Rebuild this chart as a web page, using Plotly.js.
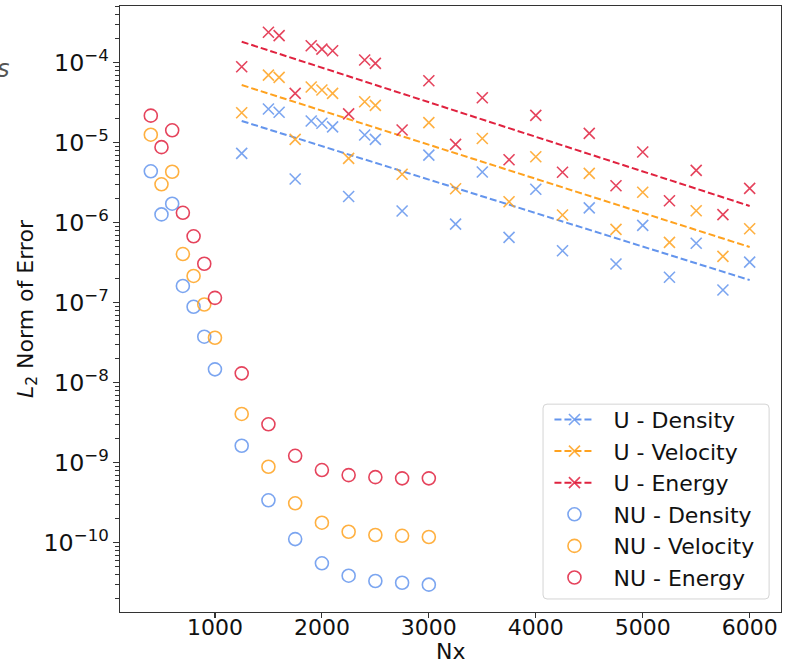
<!DOCTYPE html>
<html>
<head>
<meta charset="utf-8">
<script src="https://cdn.plot.ly/plotly-3.0.1.min.js"></script>
<style>
  html, body { margin: 0; padding: 0; background: #fff; }
  #chart { width: 786px; height: 665px; }
</style>
</head>
<body>
<div id="chart"></div>
<script>
// Uniform-grid (U) runs
const uNx = [1250, 1500, 1600, 1750, 1900, 2000, 2100, 2250, 2400, 2500, 2750, 3000,
             3250, 3500, 3750, 4000, 4250, 4500, 4750, 5000, 5250, 5500, 5750, 6000];
const uDensity = [7.37e-6, 2.64e-5, 2.4e-5, 3.52e-6, 1.87e-5, 1.75e-5, 1.58e-5, 2.13e-6,
                  1.25e-5, 1.1e-5, 1.4e-6, 7.0e-6, 9.6e-7, 4.3e-6, 6.57e-7, 2.62e-6,
                  4.47e-7, 1.53e-6, 3.05e-7, 9.28e-7, 2.08e-7, 5.53e-7, 1.44e-7, 3.22e-7];
const uVelocity = [2.37e-5, 7.0e-5, 6.57e-5, 1.1e-5, 4.97e-5, 4.56e-5, 4.14e-5, 6.38e-6,
                   3.25e-5, 2.93e-5, 4.03e-6, 1.78e-5, 2.66e-6, 1.13e-5, 1.83e-6, 6.68e-6,
                   1.25e-6, 4.14e-6, 8.27e-7, 2.4e-6, 5.69e-7, 1.41e-6, 3.8e-7, 8.4e-7];
const uEnergy = [8.9e-5, 2.4e-4, 2.18e-4, 4.14e-5, 1.63e-4, 1.48e-4, 1.41e-4, 2.29e-5,
                 1.08e-4, 9.8e-5, 1.44e-5, 5.96e-5, 9.55e-6, 3.65e-5, 6.13e-6, 2.2e-5,
                 4.27e-6, 1.31e-5, 2.9e-6, 7.66e-6, 1.88e-6, 4.52e-6, 1.26e-6, 2.69e-6];

// Exponential trend lines through the U runs
const fitNx = [1250, 6000];
const fitDensity = [1.87e-5, 1.92e-7];
const fitVelocity = [5.26e-5, 4.97e-7];
const fitEnergy = [1.83e-4, 1.62e-6];

// Non-uniform-grid (NU) runs
const nuNx = [400, 500, 600, 700, 800, 900, 1000, 1250, 1500, 1750, 2000, 2250, 2500, 2750, 3000];
const nuDensity = [4.39e-6, 1.27e-6, 1.73e-6, 1.62e-7, 8.9e-8, 3.76e-8, 1.47e-8, 1.63e-9,
                   3.39e-10, 1.11e-10, 5.53e-11, 3.87e-11, 3.32e-11, 3.16e-11, 2.99e-11];
const nuVelocity = [1.26e-5, 3.02e-6, 4.34e-6, 4.06e-7, 2.16e-7, 9.5e-8, 3.65e-8, 4.07e-9,
                    8.9e-10, 3.11e-10, 1.78e-10, 1.37e-10, 1.25e-10, 1.22e-10, 1.18e-10];
const nuEnergy = [2.18e-5, 8.8e-6, 1.43e-5, 1.33e-6, 6.76e-7, 3.07e-7, 1.15e-7, 1.31e-8,
                  3.02e-9, 1.22e-9, 8.1e-10, 7.0e-10, 6.6e-10, 6.38e-10, 6.38e-10];

const uLabels = ['U - Density', 'U - Velocity', 'U - Energy'];
const nuLabels = ['NU - Density', 'NU - Velocity', 'NU - Energy'];

const colors = ['#6495ED', '#FFA21F', '#E0223F'];
const soft = ['rgba(100,149,237,0.85)', 'rgba(255,162,31,0.85)', 'rgba(224,34,63,0.85)'];

const FONT = 'DejaVu Sans, Verdana, sans-serif';
const uSeries = [uDensity, uVelocity, uEnergy];
const fitSeries = [fitDensity, fitVelocity, fitEnergy];
const nuSeries = [nuDensity, nuVelocity, nuEnergy];

// legend labels get a little padding after the key symbol
const pad = '\u00a0\u00a0';

const traces = [];

// legend entries for U (dashed line with cross)
for (let i = 0; i < 3; i++) {
  traces.push({
    type: 'scatter', mode: 'lines+markers', x: [null], y: [null],
    name: pad + uLabels[i], legendgroup: 'u' + i,
    line: { color: colors[i], width: 2, dash: '7px,3px' },
    marker: { symbol: 'x-thin', size: 11, color: soft[i], line: { color: soft[i], width: 1.6 } },
    hoverinfo: 'skip'
  });
}
// NU points (open circles), also listed in the legend
for (let i = 0; i < 3; i++) {
  traces.push({
    type: 'scatter', mode: 'markers', x: nuNx, y: nuSeries[i],
    name: pad + nuLabels[i], legendgroup: 'nu' + i,
    marker: { symbol: 'circle-open', size: 13, color: soft[i], line: { color: soft[i], width: 1.6 } }
  });
}
// U points and fit lines
for (let i = 0; i < 3; i++) {
  traces.push({
    type: 'scatter', mode: 'markers', x: uNx, y: uSeries[i],
    name: uLabels[i], legendgroup: 'u' + i, showlegend: false,
    marker: { symbol: 'x-thin', size: 11, color: soft[i], line: { color: soft[i], width: 1.6 } }
  });
  traces.push({
    type: 'scatter', mode: 'lines', x: fitNx, y: fitSeries[i],
    name: uLabels[i] + ' fit', legendgroup: 'u' + i, showlegend: false,
    line: { color: colors[i], width: 2, dash: '7px,3px' }
  });
}

// legend frame (rounded box) in paper units
const W = 661, H = 606;
const bx0 = 0.640, bx1 = 0.982, by0 = 0.0215, by1 = 0.343;
const rx = 4 / W, ry = 4 / H;
const framePath =
  `M ${bx0 + rx},${by0} L ${bx1 - rx},${by0} Q ${bx1},${by0} ${bx1},${by0 + ry} ` +
  `L ${bx1},${by1 - ry} Q ${bx1},${by1} ${bx1 - rx},${by1} ` +
  `L ${bx0 + rx},${by1} Q ${bx0},${by1} ${bx0},${by1 - ry} ` +
  `L ${bx0},${by0 + ry} Q ${bx0},${by0} ${bx0 + rx},${by0} Z`;

const layout = {
  width: 786, height: 665,
  margin: { l: 120, r: 5, t: 6, b: 53 },
  paper_bgcolor: '#fff', plot_bgcolor: '#fff',
  font: { family: FONT, size: 22, color: '#111' },
  showlegend: true,
  xaxis: {
    range: [112, 6293],
    dtick: 1000, tick0: 0,
    showgrid: false, zeroline: false,
    ticks: 'outside', ticklen: 5, tickwidth: 1.2, tickcolor: '#333',
    ticklabelstandoff: -10,
    showline: true, linecolor: '#333', linewidth: 1.4, mirror: true,
    tickfont: { family: FONT, size: 22, color: '#111' }
  },
  yaxis: {
    type: 'log',
    range: [-10.866, -3.291],
    dtick: 1,
    exponentformat: 'power',
    showgrid: false, zeroline: false,
    ticks: 'outside', ticklen: 6, tickwidth: 1.2, tickcolor: '#333',
    minor: { ticks: 'outside', ticklen: 3.5, tickwidth: 1, tickcolor: '#333', showgrid: false },
    showline: true, linecolor: '#333', linewidth: 1.4, mirror: true,
    tickfont: { family: FONT, size: 19, color: '#111' },
    title: { text: '<i>L</i><sub>2</sub> Norm of Error', font: { family: FONT, size: 22, color: '#111' }, standoff: 4 }
  },
  legend: {
    x: 0.6497, y: 0.352, xanchor: 'left', yanchor: 'top',
    bgcolor: 'rgba(0,0,0,0)', borderwidth: 0,
    font: { family: FONT, size: 22, color: '#111' },
    itemwidth: 40, tracegroupgap: 0
  },
  shapes: [{
    type: 'path', xref: 'paper', yref: 'paper', path: framePath,
    line: { color: '#d4d4d4', width: 1 }, fillcolor: 'rgba(255,255,255,0.85)', layer: 'above'
  }],
  annotations: [
    {
      // x-axis label
      xref: 'paper', yref: 'paper', x: 0.5, y: -0.0655,
      xanchor: 'center', yanchor: 'middle', showarrow: false,
      text: 'Nx', font: { family: FONT, size: 22, color: '#111' }
    },
    {
      xref: 'paper', yref: 'paper', x: -0.176, y: 0.896,
      xanchor: 'center', yanchor: 'middle', showarrow: false,
      text: '<i>s</i>', font: { family: 'DejaVu Sans, sans-serif', size: 24, color: '#555' }
    }
  ]
};

Plotly.newPlot('chart', traces, layout, { staticPlot: true, displayModeBar: false });
</script>
</body>
</html>
